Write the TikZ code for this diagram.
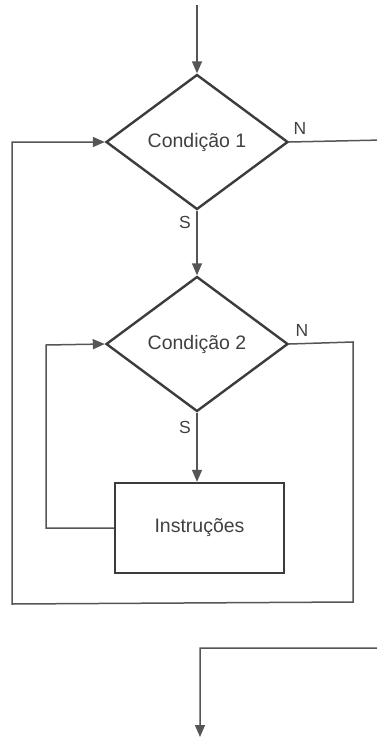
\documentclass[tikz,border=0pt]{standalone}
\usepackage{fontspec}
\setmainfont{Liberation Sans}
\usetikzlibrary{shapes.geometric,arrows.meta}
\definecolor{ink}{HTML}{3C3C3C}
\definecolor{wire}{HTML}{555555}
\definecolor{txt}{HTML}{404040}
\tikzset{
  decision/.style={diamond, draw=ink, line width=2.4pt, inner sep=0pt,
    minimum width=182pt, minimum height=135pt, font=\fontsize{19.5}{22}\selectfont, text=txt},
  process/.style={rectangle, draw=ink, line width=2.4pt, inner sep=0pt,
    minimum width=169pt, minimum height=90pt, font=\fontsize{19.5}{22}\selectfont, text=txt},
  wirestyle/.style={draw=wire, line width=1.5pt},
  arr/.style={wirestyle, -{Triangle[length=12pt,width=10pt]}},
  lbl/.style={font=\fontsize{17.5}{20}\selectfont, text=txt, inner sep=0pt}
}
\begin{document}
\begin{tikzpicture}[x=1pt,y=-1pt]
\useasboundingbox (0,0) rectangle (377,742);
\clip (0,0) rectangle (377,742);
\node[decision] (c1) at (197,142) {Condição 1};
\node[decision] (c2) at (197,344) {Condição 2};
\node[process] (ins) at (199.5,528) {Instruções};
\coordinate (start) at (197,5);
\coordinate (r1) at (383,140);
\coordinate (r2) at (383,648);
\coordinate (bl) at (200,648);
\coordinate (endp) at (200,737);
\coordinate (l2a) at (46,528);
\coordinate (l2b) at (46,345);
\coordinate (o1) at (353,342);
\coordinate (o2) at (353,602);
\coordinate (o3) at (12,604);
\coordinate (o4) at (12,142);
% flow
\draw[arr] (start) -- (c1.north);
\draw[arr] (c1.south) -- (c2.north);
\draw[arr] (c2.south) -- (c2.south |- ins.north);
\draw[arr] (ins.west) -- (l2a) -- (l2b) -- (c2.west);
\draw[arr] (c2.east) -- (o1) -- (o2) -- (o3) -- (o4) -- (c1.west);
\draw[arr] (c1.east) -- (r1) -- (r2) -- (bl) -- (endp);
% labels
\node[lbl] (n1) at (300,128) {N};
\node[lbl] (s1) at (185,222) {S};
\node[lbl] (n2) at (302,330) {N};
\node[lbl] (s2) at (185,427) {S};
\end{tikzpicture}
\end{document}
